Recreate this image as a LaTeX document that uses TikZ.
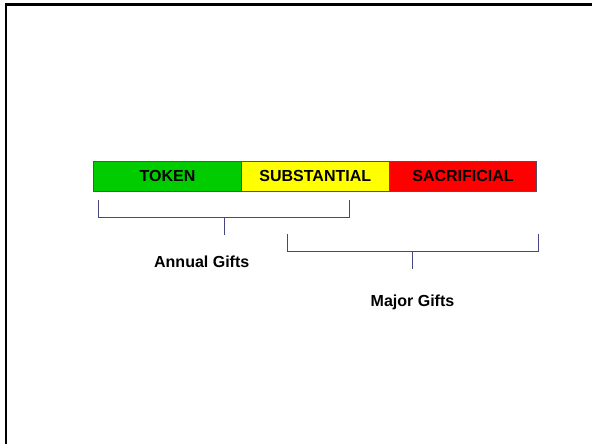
\documentclass[tikz,border=0pt]{standalone}
\usepackage{fontspec}
\setmainfont{Liberation Sans}
\definecolor{barline}{RGB}{80,80,110}
\definecolor{brk}{RGB}{70,70,130}
\definecolor{tokgreen}{RGB}{0,204,0}
\definecolor{subyellow}{RGB}{255,255,0}
\definecolor{sacred}{RGB}{255,0,0}
\tikzset{
  seg/.style={draw=barline, line width=1pt, minimum width=147.7pt, minimum height=30pt, inner sep=0pt, font=\fontsize{16}{19}\selectfont\bfseries},
  lbl/.style={inner sep=0pt, font=\fontsize{16}{19}\selectfont\bfseries},
  bracket/.style={draw=brk, line width=1pt}
}
\begin{document}
\begin{tikzpicture}[x=1pt,y=-1pt]
\useasboundingbox (0,0) rectangle (592,444);
\draw[line width=2.5pt] (6,446) -- (6,4.75) -- (594,4.75);
\node[seg, fill=tokgreen] (token) at (167.6,176) {TOKEN};
\node[seg, fill=subyellow] (subst) at (315.3,176) {SUBSTANTIAL};
\node[seg, fill=sacred] (sacr) at (463,176) {SACRIFICIAL};
% Annual bracket
\coordinate (a1) at (98.3,200);
\coordinate (a2) at (349.3,200);
\coordinate (am) at (224,217.5);
\coordinate (as) at (224,235.3);
\draw[bracket] (a1) -- (a1 |- am) -- (a2 |- am) -- (a2);
\draw[bracket] (am) -- (as);
\node[lbl, anchor=base] (annual) at (201.7,267) {Annual Gifts};
% Major bracket
\coordinate (b1) at (287.3,234);
\coordinate (b2) at (538.3,234);
\coordinate (bm) at (412.7,251);
\coordinate (bs) at (412.7,269);
\draw[bracket] (b1) -- (b1 |- bm) -- (b2 |- bm) -- (b2);
\draw[bracket] (bm) -- (bs);
\node[lbl, anchor=base] (major) at (412.5,306.5) {Major Gifts};
\end{tikzpicture}
\end{document}
